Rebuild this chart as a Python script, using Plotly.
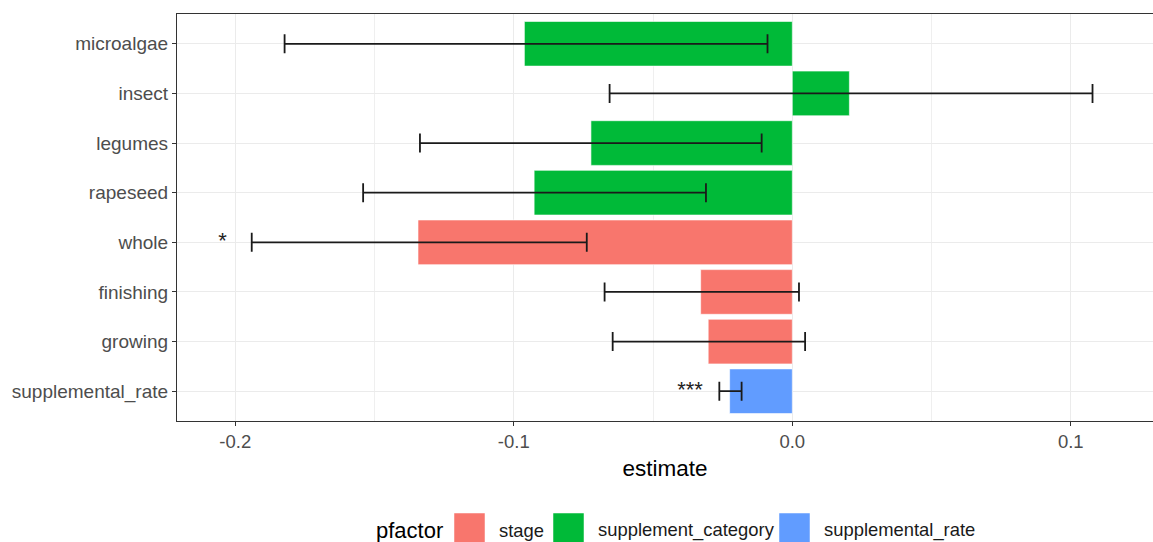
import plotly.graph_objects as go

# Model terms, their grouping factor and estimates with confidence limits
terms = ["microalgae", "insect", "legumes", "rapeseed", "whole",
         "finishing", "growing", "supplemental_rate"]
pfactor = ["supplement_category", "supplement_category", "supplement_category",
           "supplement_category", "stage", "stage", "stage", "supplemental_rate"]
estimate = [-0.0962, 0.0205, -0.0723, -0.0927, -0.1344, -0.0329, -0.0302, -0.0225]
conf_low = [-0.1823, -0.0656, -0.1337, -0.1541, -0.1941, -0.0674, -0.0645, -0.0262]
conf_high = [-0.0089, 0.1078, -0.0110, -0.0310, -0.0738, 0.0024, 0.0046, -0.0182]
signif = ["", "", "", "", "*", "", "", "***"]

levels = ["stage", "supplement_category", "supplemental_rate"]
colors = {"stage": "#F8766D", "supplement_category": "#00BA38",
          "supplemental_rate": "#619CFF"}

# bottom-to-top order of the categorical axis
y_order = terms[::-1]

W, H = 1153, 542
ML, MR, MT, MB = 177, 0, 14, 121

fig = go.Figure()

for lev in levels:
    idx = [i for i, p in enumerate(pfactor) if p == lev]
    fig.add_trace(go.Bar(
        orientation="h",
        y=[terms[i] for i in idx],
        x=[estimate[i] for i in idx],
        width=0.9,
        marker=dict(color=colors[lev], line=dict(color="white", width=0.6)),
        error_x=dict(
            type="data", symmetric=False,
            array=[conf_high[i] - estimate[i] for i in idx],
            arrayminus=[estimate[i] - conf_low[i] for i in idx],
            color="#1a1a1a", thickness=1.8, width=9.5,
        ),
        name=lev,
        showlegend=False,
    ))

# significance stars just left of the lower confidence limit
sig_idx = [i for i, s in enumerate(signif) if s]
fig.add_trace(go.Scatter(
    x=[conf_low[i] - 0.0105 for i in sig_idx],
    y=[terms[i] for i in sig_idx],
    text=[signif[i] for i in sig_idx],
    mode="text",
    textposition="middle center",
    textfont=dict(family="Liberation Sans, Arial", size=22, color="#222222"),
    showlegend=False,
    hoverinfo="skip",
))

x0 = -(792.3 - ML) / 2785
x1 = (W - 792.3) / 2785

font = "Liberation Sans, Arial, sans-serif"

fig.update_layout(
    width=W, height=H,
    margin=dict(l=ML, r=MR, t=MT, b=MB, pad=0),
    paper_bgcolor="white", plot_bgcolor="white",
    barmode="overlay",
    font=dict(family=font, color="#4D4D4D", size=18),
    xaxis=dict(
        range=[x0, x1],
        tickvals=[-0.2, -0.1, 0.0, 0.1],
        ticktext=["-0.2", "-0.1", "0.0", "0.1"],
        showgrid=True, gridcolor="#EBEBEB", gridwidth=1.3,
        minor=dict(dtick=0.05, tick0=0, showgrid=True,
                   gridcolor="#EFEFEF", gridwidth=1),
        zeroline=False,
        showline=True, linecolor="#333333", linewidth=1.2, mirror=True,
        ticks="outside", ticklen=4, tickcolor="#333333", tickwidth=1.2,
        tickfont=dict(family=font, size=18.5, color="#4D4D4D"),
        title=dict(text="estimate", standoff=8,
                   font=dict(family=font, size=22.5, color="black")),
    ),
    yaxis=dict(
        type="category",
        categoryorder="array", categoryarray=y_order,
        range=[-0.6, len(terms) - 0.4],
        showgrid=True, gridcolor="#EBEBEB", gridwidth=1.3,
        zeroline=False,
        showline=True, linecolor="#333333", linewidth=1.2,
        ticks="outside", ticklen=4, tickcolor="#333333", tickwidth=1.2,
        tickfont=dict(family=font, size=19, color="#4D4D4D"),
    ),
)

# legend drawn below the panel: title, colour keys and labels
pw = W - ML - MR
ph = H - MT - MB


def px_x(p):
    return (p - ML) / pw


def px_y(p):
    return (H - MB - p) / ph


key_top, key_bot, text_y = 513, 543, 530
fig.add_annotation(x=px_x(374), y=px_y(text_y), xref="paper", yref="paper",
                   text="pfactor", showarrow=False, xanchor="left", yanchor="middle",
                   font=dict(family=font, size=22, color="black"))
key_left = [454, 553, 779]
for lev, kl in zip(levels, key_left):
    fig.add_shape(type="rect", xref="paper", yref="paper",
                  x0=px_x(kl), x1=px_x(kl + 31), y0=px_y(key_bot), y1=px_y(key_top),
                  fillcolor=colors[lev], line=dict(color="white", width=0.5))
    fig.add_annotation(x=px_x(kl + 43), y=px_y(text_y), xref="paper", yref="paper",
                       text=lev, showarrow=False, xanchor="left", yanchor="middle",
                       font=dict(family=font, size=18.4, color="#1a1a1a"))

fig.write_html("out.html")
